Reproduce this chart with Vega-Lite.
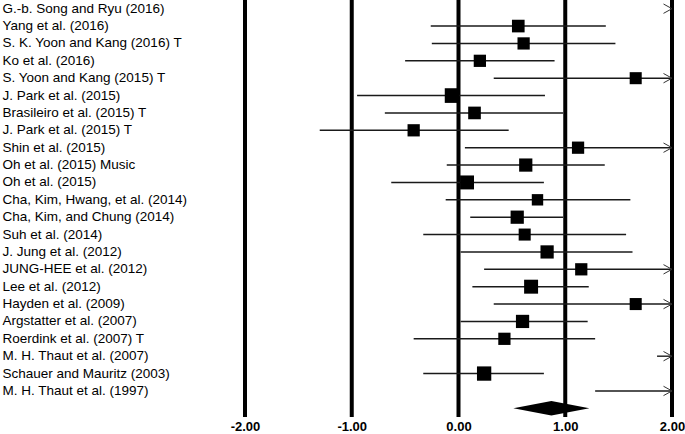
{
  "$schema": "https://vega.github.io/schema/vega-lite/v6.json",
  "width": 427,
  "height": 417,
  "autosize": {"type": "none"},
  "padding": {"left": 245, "top": 0, "right": 13, "bottom": 17},
  "background": "white",
  "config": {
    "view": {"stroke": null},
    "font": "Liberation Sans",
    "axisX": {"grid": false, "domain": false, "ticks": false, "tickSize": 0, "labelFontWeight": "bold", "labelFontSize": 13, "labelColor": "black", "labelFont": "Liberation Sans", "labelPadding": 3, "labelFlush": false},
    "axisY": {"grid": false, "domain": false, "ticks": false, "tickSize": 0, "labelAlign": "left", "labelPadding": 243, "labelFontSize": 13.5, "labelLimit": 300, "labelColor": "black", "labelFont": "Liberation Sans", "labelExpr": "datum.label == 'Overall' ? '' : datum.label"}
  },
  "data": {"values": [
    {"order": 1, "study": "G.-b. Song and Ryu (2016)", "est": null, "lo": null, "hi": 2, "w": null, "trunc": true},
    {"order": 2, "study": "Yang et al. (2016)", "est": 0.56, "lo": -0.26, "hi": 1.38, "w": 3.2, "trunc": false},
    {"order": 3, "study": "S. K. Yoon and Kang (2016) T", "est": 0.61, "lo": -0.25, "hi": 1.47, "w": 3.0, "trunc": false},
    {"order": 4, "study": "Ko et al. (2016)", "est": 0.20, "lo": -0.50, "hi": 0.90, "w": 3.0, "trunc": false},
    {"order": 5, "study": "S. Yoon and Kang (2015) T", "est": 1.66, "lo": 0.33, "hi": 2, "w": 2.9, "trunc": true},
    {"order": 6, "study": "J. Park et al. (2015)", "est": -0.06, "lo": -0.95, "hi": 0.81, "w": 4.3, "trunc": false},
    {"order": 7, "study": "Brasileiro et al. (2015) T", "est": 0.15, "lo": -0.69, "hi": 0.98, "w": 3.2, "trunc": false},
    {"order": 8, "study": "J. Park et al. (2015) T", "est": -0.42, "lo": -1.30, "hi": 0.47, "w": 3.0, "trunc": false},
    {"order": 9, "study": "Shin et al. (2015)", "est": 1.12, "lo": 0.06, "hi": 2, "w": 3.0, "trunc": true},
    {"order": 10, "study": "Oh et al. (2015) Music", "est": 0.63, "lo": -0.11, "hi": 1.37, "w": 3.5, "trunc": false},
    {"order": 11, "study": "Oh et al. (2015)", "est": 0.08, "lo": -0.63, "hi": 0.80, "w": 3.9, "trunc": false},
    {"order": 12, "study": "Cha, Kim, Hwang, et al. (2014)", "est": 0.74, "lo": -0.12, "hi": 1.61, "w": 2.6, "trunc": false},
    {"order": 13, "study": "Cha, Kim, and Chung (2014)", "est": 0.55, "lo": 0.11, "hi": 0.98, "w": 3.5, "trunc": false},
    {"order": 14, "study": "Suh et al. (2014)", "est": 0.62, "lo": -0.33, "hi": 1.57, "w": 2.9, "trunc": false},
    {"order": 15, "study": "J. Jung et al. (2012)", "est": 0.83, "lo": 0.02, "hi": 1.63, "w": 3.5, "trunc": false},
    {"order": 16, "study": "JUNG-HEE et al. (2012)", "est": 1.15, "lo": 0.24, "hi": 2, "w": 3.0, "trunc": true},
    {"order": 17, "study": "Lee et al. (2012)", "est": 0.68, "lo": 0.13, "hi": 1.22, "w": 3.9, "trunc": false},
    {"order": 18, "study": "Hayden et al. (2009)", "est": 1.66, "lo": 0.33, "hi": 2, "w": 2.9, "trunc": true},
    {"order": 19, "study": "Argstatter et al. (2007)", "est": 0.60, "lo": 0.02, "hi": 1.21, "w": 3.5, "trunc": false},
    {"order": 20, "study": "Roerdink et al. (2007) T", "est": 0.43, "lo": -0.42, "hi": 1.28, "w": 3.0, "trunc": false},
    {"order": 21, "study": "M. H. Thaut et al. (2007)", "est": null, "lo": 1.86, "hi": 2, "w": null, "trunc": true},
    {"order": 22, "study": "Schauer and Mauritz (2003)", "est": 0.24, "lo": -0.33, "hi": 0.80, "w": 4.1, "trunc": false},
    {"order": 23, "study": "M. H. Thaut et al. (1997)", "est": null, "lo": 1.28, "hi": 2, "w": null, "trunc": true},
    {"order": 24, "study": "Overall", "est": 0.87, "lo": 0.51, "hi": 1.23, "w": null, "trunc": false, "summary": true}
  ]},
  "layer": [
    {
      "data": {"values": [{"v": -2}, {"v": -1}, {"v": 0}, {"v": 1}, {"v": 2}]},
      "mark": {"type": "rule", "color": "black", "strokeWidth": 4},
      "encoding": {
        "x": {"field": "v", "type": "quantitative", "title": null, "scale": {"domain": [-2, 2], "nice": false, "zero": false}, "axis": {"values": [-2, -1, 0, 1, 2], "tickCount": 5, "labelExpr": "(datum.value < 0 ? '-' : '') + format(abs(datum.value), '.2f')"}}
      }
    },
    {
      "transform": [{"filter": "datum.lo != null && !datum.summary"}],
      "mark": {"type": "rule", "color": "#1a1a1a", "strokeWidth": 1.4},
      "encoding": {
        "y": {"field": "study", "type": "nominal", "title": null, "sort": ["G.-b. Song and Ryu (2016)", "Yang et al. (2016)", "S. K. Yoon and Kang (2016) T", "Ko et al. (2016)", "S. Yoon and Kang (2015) T", "J. Park et al. (2015)", "Brasileiro et al. (2015) T", "J. Park et al. (2015) T", "Shin et al. (2015)", "Oh et al. (2015) Music", "Oh et al. (2015)", "Cha, Kim, Hwang, et al. (2014)", "Cha, Kim, and Chung (2014)", "Suh et al. (2014)", "J. Jung et al. (2012)", "JUNG-HEE et al. (2012)", "Lee et al. (2012)", "Hayden et al. (2009)", "Argstatter et al. (2007)", "Roerdink et al. (2007) T", "M. H. Thaut et al. (2007)", "Schauer and Mauritz (2003)", "M. H. Thaut et al. (1997)", "Overall"]},
        "x": {"field": "lo", "type": "quantitative", "title": null, "axis": {"values": [-2, -1, 0, 1, 2], "tickCount": 5, "labelExpr": "(datum.value < 0 ? '-' : '') + format(abs(datum.value), '.2f')"}},
        "x2": {"field": "hi"}
      }
    },
    {
      "transform": [{"filter": "datum.est != null && !datum.summary"}],
      "mark": {"type": "point", "shape": "square", "filled": true, "color": "black", "opacity": 1},
      "encoding": {
        "y": {"field": "study", "type": "nominal", "title": null, "sort": ["G.-b. Song and Ryu (2016)", "Yang et al. (2016)", "S. K. Yoon and Kang (2016) T", "Ko et al. (2016)", "S. Yoon and Kang (2015) T", "J. Park et al. (2015)", "Brasileiro et al. (2015) T", "J. Park et al. (2015) T", "Shin et al. (2015)", "Oh et al. (2015) Music", "Oh et al. (2015)", "Cha, Kim, Hwang, et al. (2014)", "Cha, Kim, and Chung (2014)", "Suh et al. (2014)", "J. Jung et al. (2012)", "JUNG-HEE et al. (2012)", "Lee et al. (2012)", "Hayden et al. (2009)", "Argstatter et al. (2007)", "Roerdink et al. (2007) T", "M. H. Thaut et al. (2007)", "Schauer and Mauritz (2003)", "M. H. Thaut et al. (1997)", "Overall"]},
        "x": {"field": "est", "type": "quantitative", "title": null, "axis": {"values": [-2, -1, 0, 1, 2], "tickCount": 5, "labelExpr": "(datum.value < 0 ? '-' : '') + format(abs(datum.value), '.2f')"}},
        "size": {"field": "w", "type": "quantitative", "scale": {"domain": [0, 5], "range": [0, 250]}, "legend": null}
      }
    },
    {
      "transform": [{"filter": "datum.trunc"}],
      "mark": {"type": "point", "shape": "M-1,-0.55L0,0L-1,0.55", "filled": false, "color": "#333333", "strokeWidth": 1, "size": 289, "opacity": 1},
      "encoding": {
        "y": {"field": "study", "type": "nominal", "title": null, "sort": ["G.-b. Song and Ryu (2016)", "Yang et al. (2016)", "S. K. Yoon and Kang (2016) T", "Ko et al. (2016)", "S. Yoon and Kang (2015) T", "J. Park et al. (2015)", "Brasileiro et al. (2015) T", "J. Park et al. (2015) T", "Shin et al. (2015)", "Oh et al. (2015) Music", "Oh et al. (2015)", "Cha, Kim, Hwang, et al. (2014)", "Cha, Kim, and Chung (2014)", "Suh et al. (2014)", "J. Jung et al. (2012)", "JUNG-HEE et al. (2012)", "Lee et al. (2012)", "Hayden et al. (2009)", "Argstatter et al. (2007)", "Roerdink et al. (2007) T", "M. H. Thaut et al. (2007)", "Schauer and Mauritz (2003)", "M. H. Thaut et al. (1997)", "Overall"]},
        "x": {"field": "hi", "type": "quantitative", "title": null, "axis": {"values": [-2, -1, 0, 1, 2], "tickCount": 5, "labelExpr": "(datum.value < 0 ? '-' : '') + format(abs(datum.value), '.2f')"}}
      }
    },
    {
      "transform": [{"filter": "datum.summary"}],
      "mark": {"type": "point", "shape": "M-1,0L0,-0.19L1,0L0,0.19Z", "filled": true, "color": "black", "size": 5776, "opacity": 1},
      "encoding": {
        "y": {"field": "study", "type": "nominal", "title": null, "sort": ["G.-b. Song and Ryu (2016)", "Yang et al. (2016)", "S. K. Yoon and Kang (2016) T", "Ko et al. (2016)", "S. Yoon and Kang (2015) T", "J. Park et al. (2015)", "Brasileiro et al. (2015) T", "J. Park et al. (2015) T", "Shin et al. (2015)", "Oh et al. (2015) Music", "Oh et al. (2015)", "Cha, Kim, Hwang, et al. (2014)", "Cha, Kim, and Chung (2014)", "Suh et al. (2014)", "J. Jung et al. (2012)", "JUNG-HEE et al. (2012)", "Lee et al. (2012)", "Hayden et al. (2009)", "Argstatter et al. (2007)", "Roerdink et al. (2007) T", "M. H. Thaut et al. (2007)", "Schauer and Mauritz (2003)", "M. H. Thaut et al. (1997)", "Overall"]},
        "x": {"field": "est", "type": "quantitative", "title": null, "axis": {"values": [-2, -1, 0, 1, 2], "tickCount": 5, "labelExpr": "(datum.value < 0 ? '-' : '') + format(abs(datum.value), '.2f')"}}
      }
    }
  ]
}
